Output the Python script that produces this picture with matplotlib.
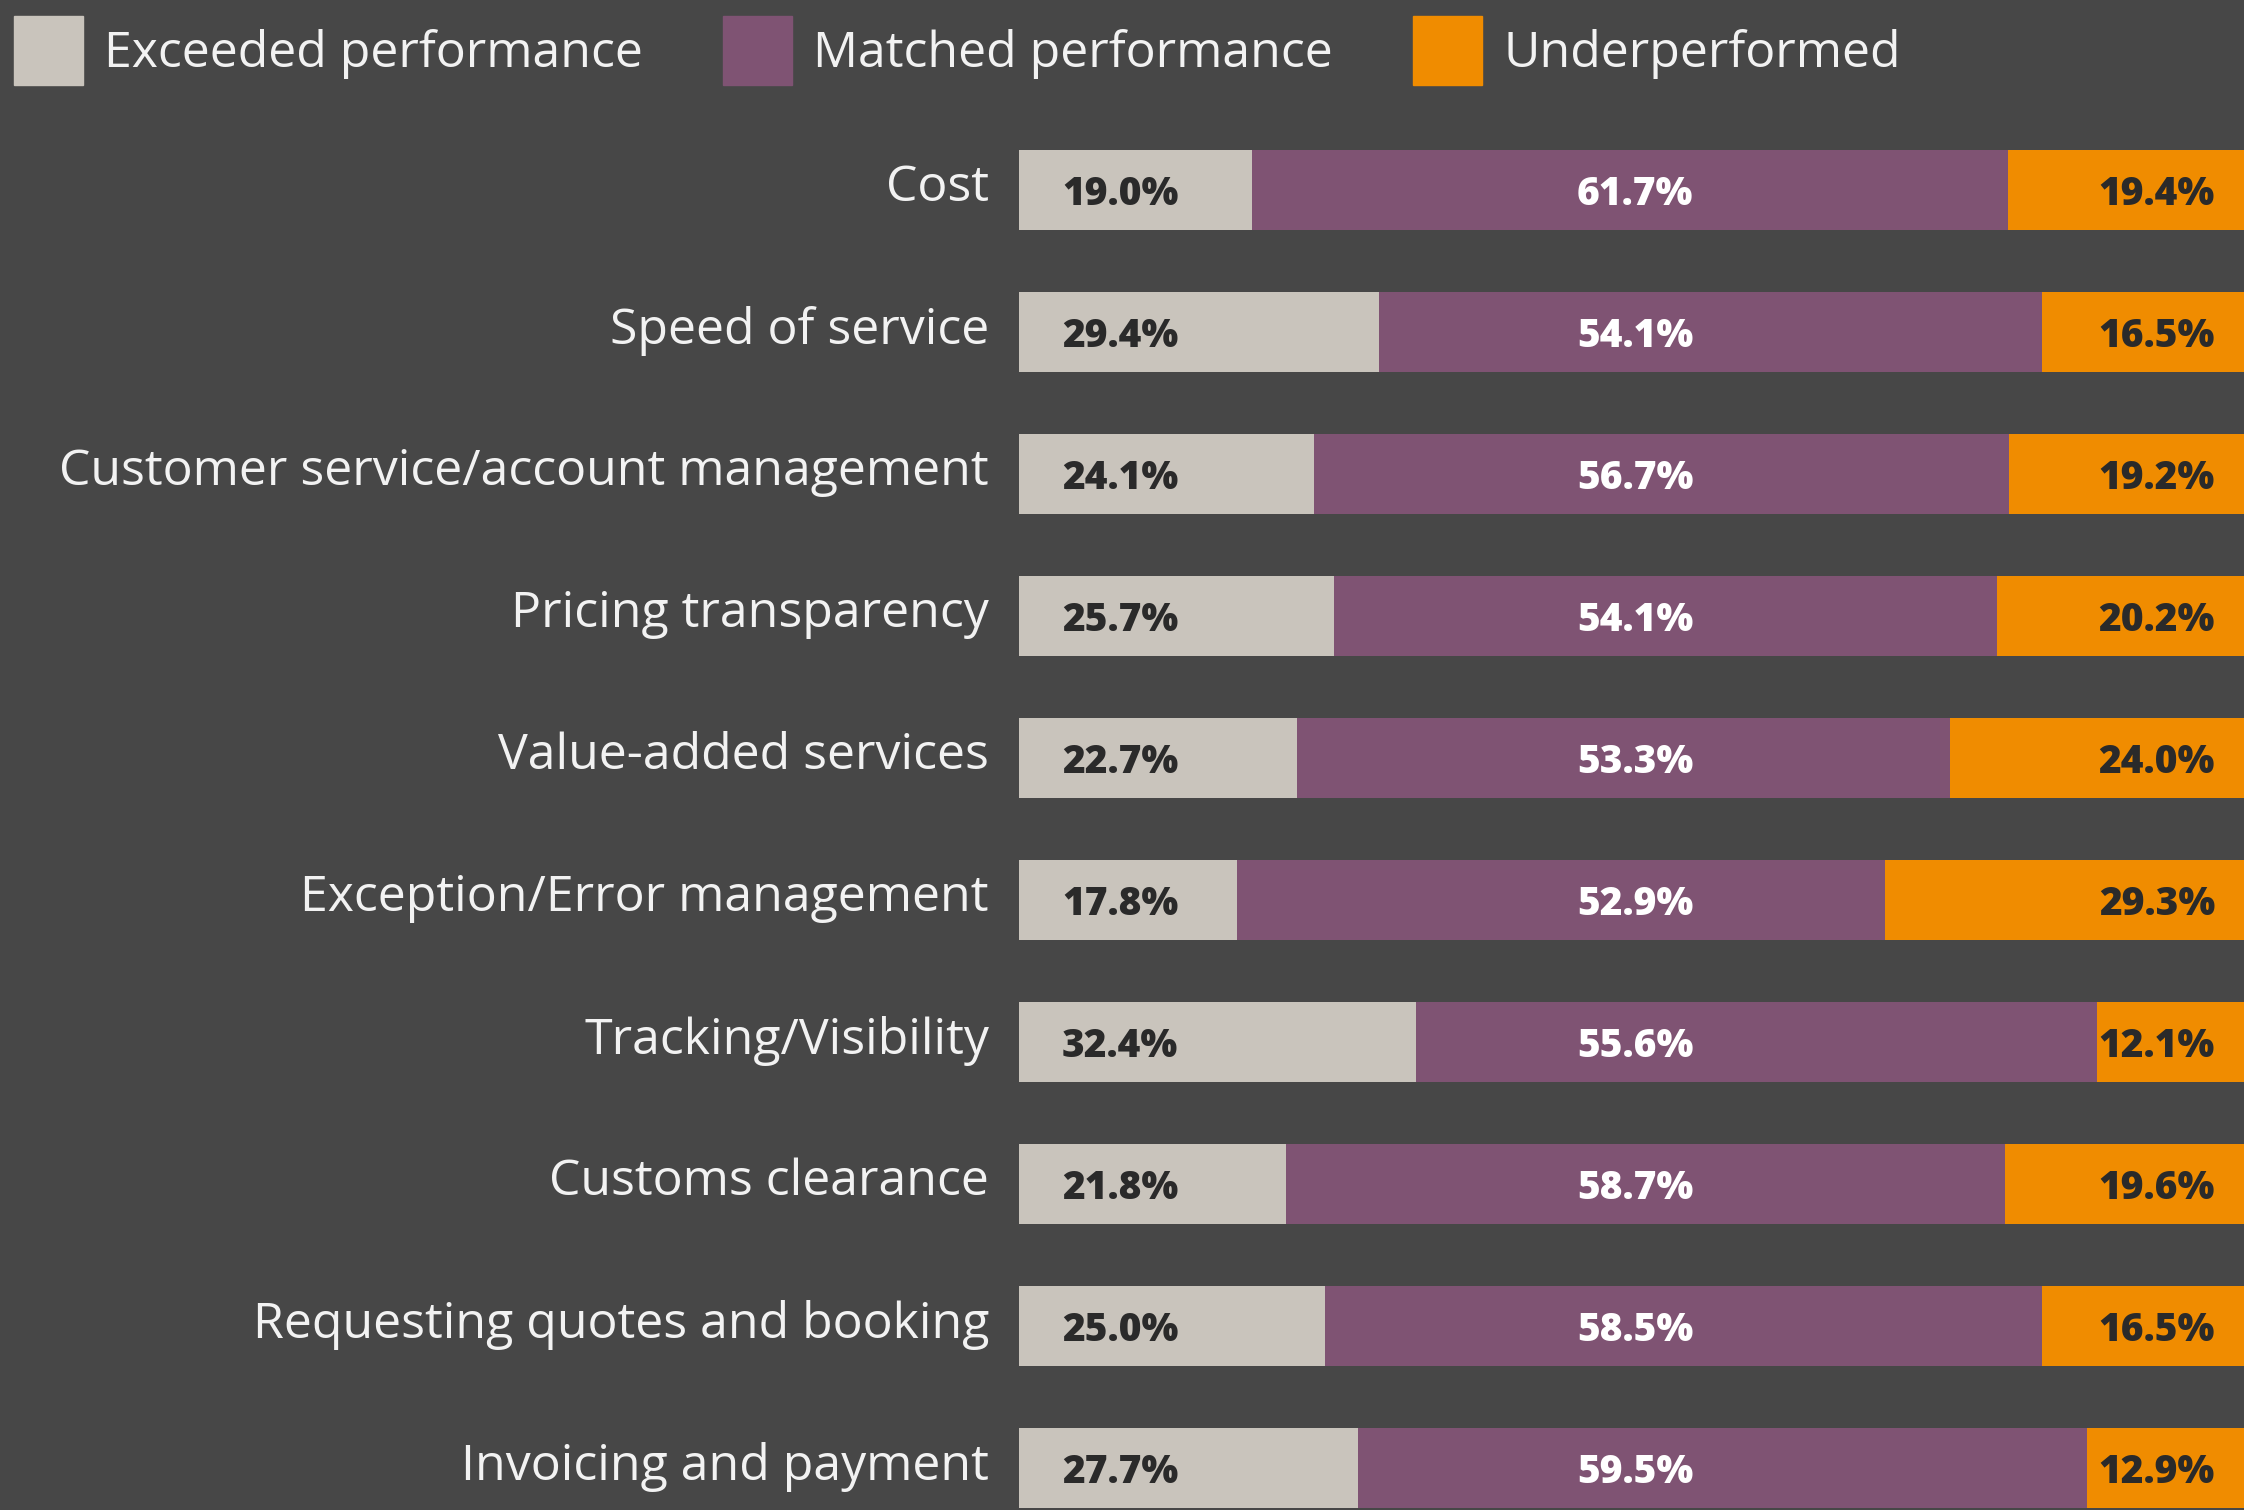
import matplotlib
matplotlib.use("Agg")
import matplotlib.pyplot as plt
from matplotlib.patches import Patch

# ── Données ──────────────────────────────────────────────────────────────────
categories = ["Cost", "Speed of service", "Customer service/account management",
              "Pricing transparency", "Value-added services",
              "Exception/Error management", "Tracking/Visibility",
              "Customs clearance", "Requesting quotes and booking",
              "Invoicing and payment"]
exceeded = [19.0, 29.4, 24.1, 25.7, 22.7, 17.8, 32.4, 21.8, 25.0, 27.7]
matched = [61.7, 54.1, 56.7, 54.1, 53.3, 52.9, 55.6, 58.7, 58.5, 59.5]
under = [19.4, 16.5, 19.2, 20.2, 24.0, 29.3, 12.1, 19.6, 16.5, 12.9]
series_names = ["Exceeded performance", "Matched performance", "Underperformed"]

BG = "#474747"
C_EXC, C_MAT, C_UND = "#c9c4bc", "#7f5373", "#f08c00"

plt.rcParams["font.family"] = ["Open Sans", "DejaVu Sans"]

W, H = 2244, 1510
fig = plt.figure(figsize=(W / 100, H / 100), dpi=100, facecolor=BG)
ax = fig.add_axes([1019 / W, 0, 1 - 1019 / W, 1 - 100 / H])
ax.set_facecolor(BG)

y = list(range(len(categories)))
h = 0.56
ax.barh(y, exceeded, height=h, color=C_EXC)
left2 = exceeded
ax.barh(y, matched, left=left2, height=h, color=C_MAT)
left3 = [a + b for a, b in zip(exceeded, matched)]
ax.barh(y, under, left=left3, height=h, color=C_UND)

ax.set_xlim(0, 100)
ax.set_ylim(9.296, -0.634)
for s in ax.spines.values():
    s.set_visible(False)
ax.set_xticks([])
ax.set_yticks([])

xr = 100 / (W - 1019)  # data units per pixel
for i, cat in enumerate(categories):
    ax.text(-30 * xr, i - 0.01, cat, ha="right", va="center", fontsize=36,
            color="#f2f2f2")
    ax.text(43 * xr, i + 0.03, f"{exceeded[i]:.1f}%", ha="left", va="center",
            fontsize=28, fontweight="heavy", color="#2a2a2a")
    ax.text(50.3, i + 0.03, f"{matched[i]:.1f}%", ha="center", va="center",
            fontsize=28, fontweight="heavy", color="white")
    ax.text(100 - 29 * xr, i + 0.03, f"{under[i]:.1f}%", ha="right", va="center",
            fontsize=28, fontweight="heavy", color="#2a2a2a")

handles = [Patch(color=c) for c in (C_EXC, C_MAT, C_UND)]
leg = fig.legend(handles, series_names, loc="upper left",
                 bbox_to_anchor=(0.002, 0.996), ncol=3, frameon=False,
                 fontsize=36, handlelength=1.38, handleheight=1.75,
                 handletextpad=0.42, columnspacing=1.6,
                 borderaxespad=0.0, borderpad=0.2)
for t in leg.get_texts():
    t.set_color("#f2f2f2")

fig.savefig("out.png", dpi=100, facecolor=BG)
